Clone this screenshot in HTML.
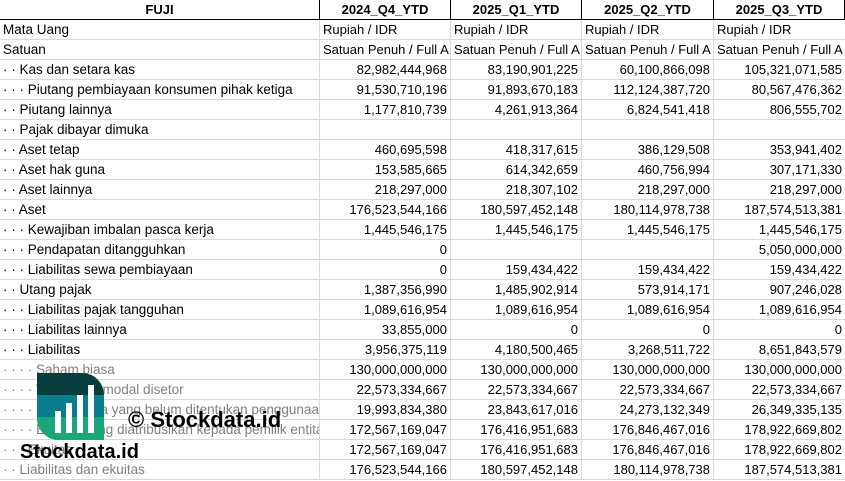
<!DOCTYPE html>
<html><head><meta charset="utf-8"><style>
body{margin:0;width:845px;height:481px;overflow:hidden;background:#fff;font-family:"Liberation Sans",sans-serif;font-size:13px;color:#000;position:relative}
.r{position:absolute;left:0;width:845px;height:20px;border-bottom:1px solid #d9d9d9;box-sizing:border-box}
.c{position:absolute;top:0;height:19px;line-height:20px;overflow:hidden;white-space:nowrap;box-sizing:border-box;border-right:1px solid #d9d9d9;padding:0 3px}
.c0{left:0;width:320px;font-size:13.5px}.c1{left:320px;width:131px}.c2{left:451px;width:131px}.c3{left:582px;width:132px}.c4{left:714px;width:131px;border-right:none}
.n{text-align:right}
.h .c{border-right:1px solid #000;font-weight:bold;text-align:center;font-size:13px}
.h{border-bottom:1px solid #000}
.g .c0{color:#808080}
</style></head><body>
<div class="r h" style="top:0"><div class="c c0">FUJI</div><div class="c c1">2024_Q4_YTD</div><div class="c c2">2025_Q1_YTD</div><div class="c c3">2025_Q2_YTD</div><div class="c c4">2025_Q3_YTD</div></div>
<div class="r" style="top:20px"><div class="c c0">Mata Uang</div><div class="c c1">Rupiah / IDR</div><div class="c c2">Rupiah / IDR</div><div class="c c3">Rupiah / IDR</div><div class="c c4">Rupiah / IDR</div></div>
<div class="r" style="top:40px"><div class="c c0">Satuan</div><div class="c c1">Satuan Penuh / Full A</div><div class="c c2">Satuan Penuh / Full A</div><div class="c c3">Satuan Penuh / Full A</div><div class="c c4">Satuan Penuh / Full A</div></div>
<div class="r" style="top:60px"><div class="c c0">· · Kas dan setara kas</div><div class="c c1 n">82,982,444,968</div><div class="c c2 n">83,190,901,225</div><div class="c c3 n">60,100,866,098</div><div class="c c4 n">105,321,071,585</div></div>
<div class="r" style="top:80px"><div class="c c0">· · · Piutang pembiayaan konsumen pihak ketiga</div><div class="c c1 n">91,530,710,196</div><div class="c c2 n">91,893,670,183</div><div class="c c3 n">112,124,387,720</div><div class="c c4 n">80,567,476,362</div></div>
<div class="r" style="top:100px"><div class="c c0">· · Piutang lainnya</div><div class="c c1 n">1,177,810,739</div><div class="c c2 n">4,261,913,364</div><div class="c c3 n">6,824,541,418</div><div class="c c4 n">806,555,702</div></div>
<div class="r" style="top:120px"><div class="c c0">· · Pajak dibayar dimuka</div><div class="c c1"></div><div class="c c2"></div><div class="c c3"></div><div class="c c4"></div></div>
<div class="r" style="top:140px"><div class="c c0">· · Aset tetap</div><div class="c c1 n">460,695,598</div><div class="c c2 n">418,317,615</div><div class="c c3 n">386,129,508</div><div class="c c4 n">353,941,402</div></div>
<div class="r" style="top:160px"><div class="c c0">· · Aset hak guna</div><div class="c c1 n">153,585,665</div><div class="c c2 n">614,342,659</div><div class="c c3 n">460,756,994</div><div class="c c4 n">307,171,330</div></div>
<div class="r" style="top:180px"><div class="c c0">· · Aset lainnya</div><div class="c c1 n">218,297,000</div><div class="c c2 n">218,307,102</div><div class="c c3 n">218,297,000</div><div class="c c4 n">218,297,000</div></div>
<div class="r" style="top:200px"><div class="c c0">· · Aset</div><div class="c c1 n">176,523,544,166</div><div class="c c2 n">180,597,452,148</div><div class="c c3 n">180,114,978,738</div><div class="c c4 n">187,574,513,381</div></div>
<div class="r" style="top:220px"><div class="c c0">· · · Kewajiban imbalan pasca kerja</div><div class="c c1 n">1,445,546,175</div><div class="c c2 n">1,445,546,175</div><div class="c c3 n">1,445,546,175</div><div class="c c4 n">1,445,546,175</div></div>
<div class="r" style="top:240px"><div class="c c0">· · · Pendapatan ditangguhkan</div><div class="c c1 n">0</div><div class="c c2 n"></div><div class="c c3 n"></div><div class="c c4 n">5,050,000,000</div></div>
<div class="r" style="top:260px"><div class="c c0">· · · Liabilitas sewa pembiayaan</div><div class="c c1 n">0</div><div class="c c2 n">159,434,422</div><div class="c c3 n">159,434,422</div><div class="c c4 n">159,434,422</div></div>
<div class="r" style="top:280px"><div class="c c0">· · Utang pajak</div><div class="c c1 n">1,387,356,990</div><div class="c c2 n">1,485,902,914</div><div class="c c3 n">573,914,171</div><div class="c c4 n">907,246,028</div></div>
<div class="r" style="top:300px"><div class="c c0">· · · Liabilitas pajak tangguhan</div><div class="c c1 n">1,089,616,954</div><div class="c c2 n">1,089,616,954</div><div class="c c3 n">1,089,616,954</div><div class="c c4 n">1,089,616,954</div></div>
<div class="r" style="top:320px"><div class="c c0">· · · Liabilitas lainnya</div><div class="c c1 n">33,855,000</div><div class="c c2 n">0</div><div class="c c3 n">0</div><div class="c c4 n">0</div></div>
<div class="r" style="top:340px"><div class="c c0">· · · Liabilitas</div><div class="c c1 n">3,956,375,119</div><div class="c c2 n">4,180,500,465</div><div class="c c3 n">3,268,511,722</div><div class="c c4 n">8,651,843,579</div></div>
<div class="r g" style="top:360px"><div class="c c0">· · · · Saham biasa</div><div class="c c1 n">130,000,000,000</div><div class="c c2 n">130,000,000,000</div><div class="c c3 n">130,000,000,000</div><div class="c c4 n">130,000,000,000</div></div>
<div class="r g" style="top:380px"><div class="c c0">· · · · Tambahan modal disetor</div><div class="c c1 n">22,573,334,667</div><div class="c c2 n">22,573,334,667</div><div class="c c3 n">22,573,334,667</div><div class="c c4 n">22,573,334,667</div></div>
<div class="r g" style="top:400px"><div class="c c0">· · · · · Saldo laba yang belum ditentukan penggunaannya</div><div class="c c1 n">19,993,834,380</div><div class="c c2 n">23,843,617,016</div><div class="c c3 n">24,273,132,349</div><div class="c c4 n">26,349,335,135</div></div>
<div class="r g" style="top:420px"><div class="c c0">· · · · Ekuitas yang diatribusikan kepada pemilik entitas induk</div><div class="c c1 n">172,567,169,047</div><div class="c c2 n">176,416,951,683</div><div class="c c3 n">176,846,467,016</div><div class="c c4 n">178,922,669,802</div></div>
<div class="r g" style="top:440px"><div class="c c0">· · · Ekuitas</div><div class="c c1 n">172,567,169,047</div><div class="c c2 n">176,416,951,683</div><div class="c c3 n">176,846,467,016</div><div class="c c4 n">178,922,669,802</div></div>
<div class="r g" style="top:460px"><div class="c c0">· · Liabilitas dan ekuitas</div><div class="c c1 n">176,523,544,166</div><div class="c c2 n">180,597,452,148</div><div class="c c3 n">180,114,978,738</div><div class="c c4 n">187,574,513,381</div></div>
<svg style="position:absolute;left:37px;top:373px" width="67" height="67" viewBox="0 0 67 67">
<defs><clipPath id="lf"><path d="M0 0H45A22 22 0 0 1 67 22V67H22A22 22 0 0 1 0 45Z"/></clipPath></defs>
<g clip-path="url(#lf)"><rect width="67" height="67" fill="#083d3d"/><rect y="22" width="67" height="22" fill="#0a7d8c"/><rect y="44" width="67" height="23" fill="#1aa57a"/></g>
<rect x="18" y="38" width="6" height="22" fill="#fff"/><rect x="29" y="30" width="6" height="30" fill="#fff"/><rect x="40" y="22" width="6" height="38" fill="#fff"/><rect x="51" y="12" width="6" height="48" fill="#fff"/>
</svg>
<div style="position:absolute;left:128px;top:406px;font-size:22px;font-weight:bold;line-height:28px">© Stockdata.id</div>
<div style="position:absolute;left:20px;top:439px;font-size:20px;font-weight:bold;line-height:26px">Stockdata.id</div>
</body></html>
